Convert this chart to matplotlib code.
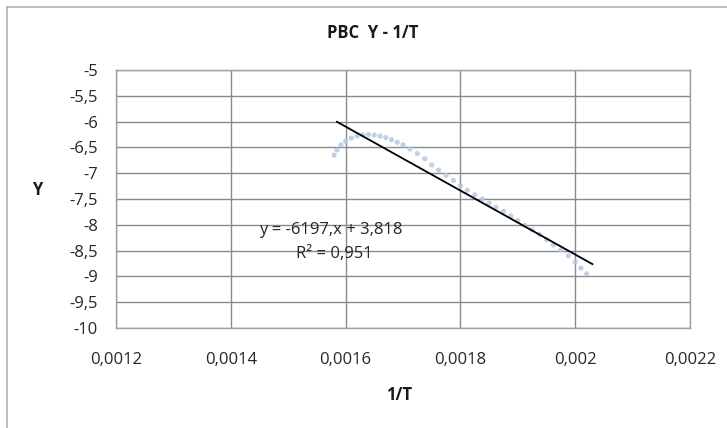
import matplotlib
matplotlib.use("Agg")
import matplotlib.pyplot as plt
import numpy as np
from matplotlib.lines import Line2D

# data
inv_T = [0.001580, 0.001585, 0.001592, 0.001600, 0.001610, 0.001620, 0.001630, 0.001640,
         0.001650, 0.001660, 0.001670, 0.001680, 0.001690, 0.001700, 0.001712, 0.001725,
         0.001738, 0.001750, 0.001762, 0.001775, 0.001788, 0.001800, 0.001812, 0.001825,
         0.001838, 0.001850, 0.001862, 0.001875, 0.001888, 0.001900, 0.001912, 0.001925,
         0.001938, 0.001950, 0.001962, 0.001975, 0.001988, 0.002000, 0.002010, 0.002020]
Y_vals = [-6.65, -6.55, -6.45, -6.38, -6.32, -6.28, -6.26, -6.25,
          -6.26, -6.28, -6.31, -6.35, -6.40, -6.45, -6.53, -6.62,
          -6.72, -6.84, -6.94, -7.04, -7.14, -7.24, -7.33, -7.42,
          -7.50, -7.58, -7.66, -7.74, -7.83, -7.92, -8.01, -8.10,
          -8.19, -8.29, -8.39, -8.49, -8.60, -8.72, -8.84, -8.95]
slope = -6197
intercept = 3.818
r2 = 0.951
trend_x = [0.001585, 0.00203]

title = "PBC  Y - 1/T"
xlabel = "1/T"
ylabel = "Y"
xticks = [0.0012, 0.0014, 0.0016, 0.0018, 0.0020, 0.0022]
xtick_labels = ["0,0012", "0,0014", "0,0016", "0,0018", "0,002", "0,0022"]
yticks = [-5, -5.5, -6, -6.5, -7, -7.5, -8, -8.5, -9, -9.5, -10]
ytick_labels = ["-5", "-5,5", "-6", "-6,5", "-7", "-7,5", "-8", "-8,5", "-9", "-9,5", "-10"]

plt.rcParams['font.family'] = ['Open Sans', 'DejaVu Sans']
FS = 12

W, H = 727, 428
fig = plt.figure(figsize=(W / 100, H / 100), dpi=100)
ax = fig.add_axes([116 / W, 1 - 328 / H, (690 - 116) / W, (328 - 70) / H])

ax.scatter(inv_T, Y_vals, s=14, color="#b4c9e2", alpha=0.85, edgecolors="none", zorder=2)
tx = np.array(trend_x)
ax.plot(tx, slope * tx + intercept, color="black", lw=1.3, zorder=3)

ax.set_xlim(0.0012, 0.0022)
ax.set_ylim(-10, -5)
ax.set_xticks(xticks)
ax.set_xticklabels(xtick_labels)
ax.set_yticks(yticks)
ax.set_yticklabels(ytick_labels)
ax.tick_params(length=0, labelsize=FS, colors="#262626")
ax.tick_params(axis="y", pad=13)
ax.tick_params(axis="x", pad=17)
ax.grid(True, color="#8a8a8a", lw=1)
ax.set_axisbelow(True)
for s in ax.spines.values():
    s.set_color("#a0a0a0")
    s.set_linewidth(1)

fig.text(373 / W, 1 - 33 / H, title, ha="center", va="center", fontsize=FS, fontweight="bold", color="#1a1a1a")
fig.text(399 / W, 1 - 395 / H, xlabel, ha="center", va="center", fontsize=FS, fontweight="bold", color="#1a1a1a")
fig.text(37 / W, 1 - 190 / H, ylabel, ha="center", va="center", fontsize=FS, fontweight="bold", color="#1a1a1a")

ax.text(0.001574, -8.11, f"y = {slope},x + 3,818", fontsize=FS, color="#262626",
        ha="center", va="center")
ax.text(0.001580, -8.56, "R² = 0,951", fontsize=FS, color="#262626", ha="center", va="center")

# chart outer border
fig.add_artist(Line2D([7 / W, 1], [1 - 7 / H, 1 - 7 / H], color="#b0b0b0", lw=1.2, transform=fig.transFigure))
fig.add_artist(Line2D([7 / W, 7 / W], [0, 1 - 7 / H], color="#b0b0b0", lw=1.2, transform=fig.transFigure))

fig.savefig("out.png", dpi=100)
